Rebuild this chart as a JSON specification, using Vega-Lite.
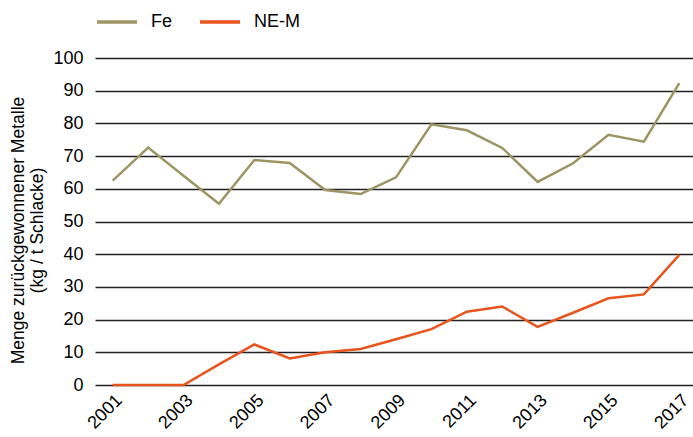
{
  "$schema": "https://vega.github.io/schema/vega-lite/v6.json",
  "autosize": "none",
  "padding": {"left": 95, "top": 58, "right": 0, "bottom": 52},
  "width": 602,
  "height": 327,
  "background": "white",
  "config": {
    "view": {"stroke": null},
    "font": "Liberation Sans"
  },
  "data": {
    "values": [
      {"year": 2001, "series": "Fe", "value": 62.5},
      {"year": 2002, "series": "Fe", "value": 72.6},
      {"year": 2003, "series": "Fe", "value": 64.0},
      {"year": 2004, "series": "Fe", "value": 55.4},
      {"year": 2005, "series": "Fe", "value": 68.8},
      {"year": 2006, "series": "Fe", "value": 67.9},
      {"year": 2007, "series": "Fe", "value": 59.6},
      {"year": 2008, "series": "Fe", "value": 58.4},
      {"year": 2009, "series": "Fe", "value": 63.5},
      {"year": 2010, "series": "Fe", "value": 79.7},
      {"year": 2011, "series": "Fe", "value": 77.9},
      {"year": 2012, "series": "Fe", "value": 72.5},
      {"year": 2013, "series": "Fe", "value": 62.1},
      {"year": 2014, "series": "Fe", "value": 67.8},
      {"year": 2015, "series": "Fe", "value": 76.5},
      {"year": 2016, "series": "Fe", "value": 74.4},
      {"year": 2017, "series": "Fe", "value": 92.3},
      {"year": 2001, "series": "NE-M", "value": 0},
      {"year": 2002, "series": "NE-M", "value": 0},
      {"year": 2003, "series": "NE-M", "value": 0},
      {"year": 2004, "series": "NE-M", "value": 6.3},
      {"year": 2005, "series": "NE-M", "value": 12.4},
      {"year": 2006, "series": "NE-M", "value": 8.1},
      {"year": 2007, "series": "NE-M", "value": 10.0},
      {"year": 2008, "series": "NE-M", "value": 11.0},
      {"year": 2009, "series": "NE-M", "value": 14.0},
      {"year": 2010, "series": "NE-M", "value": 17.1},
      {"year": 2011, "series": "NE-M", "value": 22.4},
      {"year": 2012, "series": "NE-M", "value": 24.0},
      {"year": 2013, "series": "NE-M", "value": 17.8},
      {"year": 2014, "series": "NE-M", "value": 22.1},
      {"year": 2015, "series": "NE-M", "value": 26.5},
      {"year": 2016, "series": "NE-M", "value": 27.7},
      {"year": 2017, "series": "NE-M", "value": 39.8}
    ]
  },
  "mark": {"type": "line", "strokeWidth": 2.5},
  "encoding": {
    "x": {
      "field": "year",
      "type": "ordinal",
      "scale": {"type": "point", "padding": 0.5},
      "axis": {
        "title": null,
        "values": [2001, 2003, 2005, 2007, 2009, 2011, 2013, 2015, 2017],
        "labelAngle": -45,
        "labelFontSize": 18,
        "labelColor": "#000",
        "ticks": false,
        "domain": false,
        "grid": false,
        "labelPadding": 6
      }
    },
    "y": {
      "field": "value",
      "type": "quantitative",
      "scale": {"domain": [0, 100], "nice": false},
      "axis": {
        "title": ["Menge zurückgewonnener Metalle", "(kg / t Schlacke)"],
        "titleFontSize": 17.5,
        "titleFontWeight": "normal",
        "titleColor": "#000",
        "titlePadding": 6,
        "titleY": 172,
        "values": [0, 10, 20, 30, 40, 50, 60, 70, 80, 90, 100],
        "labelFontSize": 18,
        "labelColor": "#000",
        "labelPadding": 12,
        "ticks": false,
        "domain": false,
        "grid": true,
        "gridColor": "#222",
        "gridWidth": 1.3,
        "gridOpacity": 1
      }
    },
    "color": {
      "field": "series",
      "type": "nominal",
      "scale": {"domain": ["Fe", "NE-M"], "range": ["#9c9462", "#e8541c"]},
      "legend": {
        "title": null,
        "orient": "none",
        "legendX": 0,
        "legendY": -58,
        "direction": "horizontal",
        "symbolType": "stroke",
        "symbolSize": 1600,
        "symbolStrokeWidth": 3.5,
        "labelFontSize": 18,
        "labelColor": "#000",
        "labelOffset": 12,
        "columnPadding": 20
      }
    }
  }
}
